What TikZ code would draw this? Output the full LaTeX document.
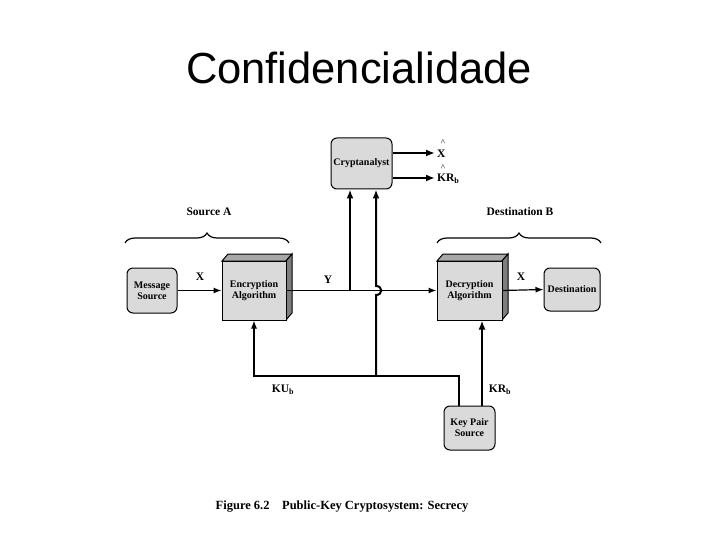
\documentclass[tikz,border=0pt]{standalone}
\usepackage{fontspec}
\setmainfont{Liberation Serif}
\newfontfamily\titlefont{Liberation Sans}
\usetikzlibrary{arrows.meta,decorations.pathreplacing}
\definecolor{boxfill}{HTML}{DADADA}
\definecolor{topface}{HTML}{A8A8A8}
\definecolor{sideface}{HTML}{7E7E7E}
\tikzset{
  diag/.style={font=\bfseries\fontsize{10}{11}\selectfont, align=center},
  rbox/.style={diag, draw, line width=1pt, fill=boxfill, rounded corners=6pt, inner sep=0pt},
  fbox/.style={diag, draw, line width=1pt, fill=boxfill, inner sep=0pt},
  lbl/.style={font=\bfseries\fontsize{11.5}{12}\selectfont, inner sep=0pt},
  hat/.style={font=\fontsize{9}{9}\selectfont, inner sep=0pt},
  conn/.style={line width=1.2pt, -{Latex[length=8pt,width=6pt]}},
  thickconn/.style={line width=2pt, -{Latex[length=9pt,width=7pt]}},
  bracestyle/.style={line width=1.2pt, decorate, decoration={brace, amplitude=10pt}},
}
\begin{document}
\begin{tikzpicture}[x=1pt,y=-1pt]
\useasboundingbox (0,0) rectangle (720,540);
% title
\node[font=\titlefont\fontsize{43.5}{46}\selectfont, inner sep=0pt] (title) at (359,68) {Confidencialidade};

% boxes
\node[rbox, minimum width=50pt, minimum height=45pt] (ms) at (152,290.5) {Message\\Source};
% encryption 3D box
\fill[topface, draw=black, line width=1pt] (222,261) -- (228,254) -- (292,254) -- (286,261) -- cycle;
\fill[sideface, draw=black, line width=1pt] (286,261) -- (292,254) -- (292,313) -- (286,320) -- cycle;
\node[fbox, minimum width=64pt, minimum height=59pt] (enc) at (254,290.5) {Encryption\\Algorithm};
% decryption 3D box
\fill[topface, draw=black, line width=1pt] (437,261) -- (443,254) -- (508,254) -- (502,261) -- cycle;
\fill[sideface, draw=black, line width=1pt] (502,261) -- (508,254) -- (508,313) -- (502,320) -- cycle;
\node[fbox, minimum width=65pt, minimum height=59pt] (dec) at (469.5,290.5) {Decryption\\Algorithm};
\node[rbox, minimum width=56pt, minimum height=43pt] (dest) at (572,289.5) {Destination};
\node[rbox, minimum width=61pt, minimum height=51pt] (crypt) at (361.5,163.5) {Cryptanalyst};
\node[rbox, minimum width=51pt, minimum height=44pt] (kps) at (469.5,428) {Key Pair\\Source};

% braces
\coordinate (sal) at (125,243);
\coordinate (sar) at (289,243);
\coordinate (dbl) at (437,243);
\coordinate (dbr) at (601,243);
\draw[bracestyle] (sal) -- (sar);
\draw[bracestyle] (dbl) -- (dbr);
\node[diag, font=\bfseries\fontsize{11.5}{12}\selectfont] (srcA) at (209,212) {Source A};
\node[diag, font=\bfseries\fontsize{11.5}{12}\selectfont] (dstB) at (520,212) {Destination B};

% main line
\draw[conn] (ms.east) -- (enc.west);
\node[lbl] (lx1) at (200,277) {X};
\draw[conn] (enc.east) -- (dec.west);
\node[lbl] (ly) at (328,280) {Y};
\draw[conn] (dec.east) -- (dest.west);
\node[lbl] (lx2) at (521,277) {X};

% to cryptanalyst
\coordinate (tapY) at (350,290.5);
\draw[thickconn] (tapY) -- (tapY |- crypt.south);
\coordinate (kbus) at (376,376);
\draw[thickconn] (kbus) -- (376,295) .. controls (383,295) and (383,286) .. (376,286) -- (kbus |- crypt.south);

% outputs of cryptanalyst
\coordinate (xhat) at (435,153);
\coordinate (krhat) at (435,178);
\draw[thickconn] (xhat -| crypt.east) -- (xhat);
\draw[thickconn] (krhat -| crypt.east) -- (krhat);
\node[lbl, anchor=west] (lxh) at (437,154) {X};
\node[hat] (hx) at (443,143) {\textasciicircum};
\node[lbl, anchor=west] (lkrh) at (437,179) {KR\textsubscript{b}};
\node[hat] (hk) at (443,168) {\textasciicircum};

% keys
\coordinate (kL) at (459,406);
\coordinate (kR) at (482,406);
\draw[conn] (kL) -- (kL |- kbus) -| (enc.south);
\draw[thickconn] (kR) -- (kR |- dec.south);
\node[lbl] (lku) at (283,390) {KU\textsubscript{b}};
\node[lbl] (lkr) at (500,390) {KR\textsubscript{b}};

% caption
\node[font=\bfseries\fontsize{12.5}{14}\selectfont, inner sep=0pt] (cap) at (342,507) {Figure 6.2\hspace{1em}Public-Key Cryptosystem: Secrecy};
\end{tikzpicture}
\end{document}
